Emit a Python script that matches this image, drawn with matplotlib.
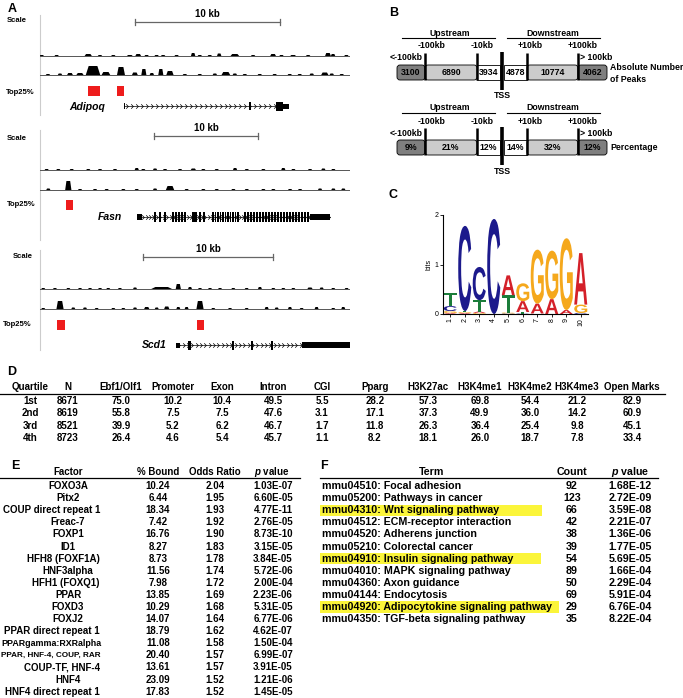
import numpy as np
import matplotlib
matplotlib.use('Agg')
import matplotlib.pyplot as plt
from matplotlib import font_manager
from matplotlib.textpath import TextPath
from matplotlib.patches import PathPatch, Rectangle, FancyBboxPatch
from matplotlib.transforms import Affine2D
from matplotlib.font_manager import FontProperties
from matplotlib.path import Path

# ---------------- DATA ----------------
# Panel A: genome browser tracks (kb position, signal height, peak width kb)
ADIPOQ_LEN = 21.4
ADIPOQ_T1 = [(0.12,1,0.3),(1.15,1,0.3),(3.33,2,0.5),(4.14,1,0.3),(5.06,1,0.3),(6.2,1,0.4),(6.78,2,0.4),
             (7.36,1,0.3),(8.05,1,0.3),(8.5,1,0.3),(9.43,1,0.3),(10.57,3,0.3),(11.03,1,0.3),(11.72,1,0.3),
             (12.37,2.5,0.3),(13.45,2,0.6),(14.71,1,0.3),(16.09,2,0.4),(16.67,1,0.3),(17.47,1,0.4),
             (18.51,1,0.3),(19.88,3,0.4),(20.23,2,0.3),(21.15,1,0.3)]
ADIPOQ_T2 = [(0.55,1,0.3),(1.38,1.5,0.3),(2.07,2,0.4),(2.76,2,0.5),(3.66,9,1.0),(4.55,3,0.6),(5.59,8,0.55),
             (6.55,2.5,0.4),(7.17,6,0.35),(7.72,2,0.3),(8.34,6,0.35),(8.97,4,0.5),(10.0,1,0.3),(11.03,1,0.3),
             (12.07,1.5,0.3),(12.83,3,0.6),(13.45,1.5,0.3),(14.14,1,0.3),(15.17,1,0.3),(16.2,1,0.3),
             (17.24,1,0.3),(17.93,1,0.3),(18.76,1.5,0.3),(19.66,2.5,0.5),(20.14,1.5,0.3),(20.83,1,0.3)]
ADIPOQ_TOP = [(3.31,4.14),(5.31,5.79)]
ADIPOQ_SCALE = 6.55
ADIPOQ_GENE = (5.79, 16.28)
ADIPOQ_EXONS = [(14.43,14.58,8),(16.28,16.76,9),(16.76,17.17,5)]

FASN_LEN = 29.8
FASN_T1 = [(0.64,1,0.4),(1.76,1,0.4),(3.05,1,0.4),(4.64,1,0.4),(5.77,1,0.4),(7.21,1,0.4),(9.3,2,0.4),
           (9.93,1,0.4),(11.06,1.5,0.4),(12.02,1,0.4),(13.46,1,0.4),(14.74,1.5,0.5),(15.7,1,0.4),(16.99,1,0.4),
           (18.75,2,0.4),(19.88,1,0.4),(21.47,1,0.4),(23.39,2,0.4),(24.36,1,0.4),(25.96,1,0.4),
           (27.24,1.5,0.4),(28.2,1,0.4)]
FASN_T2 = [(0.8,1.5,0.4),(2.72,9,0.6),(3.85,1,0.4),(5.29,1,0.4),(6.41,1,0.4),(8.01,1,0.4),(9.3,1,0.4),
           (11.06,1.5,0.4),(12.5,4,0.8),(14.1,1,0.4),(15.7,1,0.4),(16.99,1,0.4),(18.59,1,0.4),(19.88,1,0.4),
           (21.47,1,0.4),(22.43,1,0.4),(24.04,1,0.4),(25.0,1,0.4),(26.92,1.5,0.4),(28.2,1.5,0.4),(29.16,1.5,0.4)]
FASN_TOP = [(2.5,3.17)]
FASN_SCALE = 10.96
FASN_GENE = (9.33, 27.88)
FASN_UTR = [(9.33,9.81),(25.96,27.88)]
FASN_EXONS = [11.06,11.54,12.02,12.79,13.08,13.37,13.65,13.94,14.7,14.86,15.02,15.38,15.77,16.63,16.88,
              17.12,17.36,17.6,17.84,18.08,18.32,18.56,18.8,19.04,19.71,20.0,20.29,20.58,20.87,21.15,21.44,
              21.73,22.02,22.31,22.6,22.88,23.17,23.46,23.75,24.04,24.33,24.62,24.9,25.19,25.48,25.77]

SCD1_LEN = 23.85
SCD1_T1 = [(0.25,1,0.3),(1.15,1,0.3),(2.18,1,0.3),(3.08,1,0.3),(3.85,1,0.3),(4.62,1,0.3),(5.25,1,0.3),
           (6.15,1,0.3),(7.31,1.5,0.3),(9.36,2,1.6),(10.64,5,0.4),(11.54,2,0.3),(12.31,1,0.3),(13.08,1,0.3),
           (13.85,1,0.3),(14.87,1,0.3),(15.9,1,0.3),(16.92,2,0.3),(17.95,1,0.3),(18.72,1,0.3),(19.49,1,0.3),
           (20.77,1.5,0.4),(21.67,1.5,0.3),(22.56,1,0.3),(23.59,1,0.3)]
SCD1_T2 = [(0.25,1,0.3),(1.54,8,0.55),(2.56,1.5,0.3),(3.46,1.5,0.3),(4.36,1,0.3),(5.64,1,0.3),(6.41,1,0.3),
           (7.31,1.5,0.3),(8.21,2,0.4),(8.98,1.5,0.3),(9.75,2.5,0.4),(10.64,2,0.3),(11.28,2,0.3),(12.31,8,0.55),
           (13.33,1,0.3),(14.62,1,0.3),(15.9,1,0.3),(17.44,2,0.3),(18.21,1.5,0.3),(19.23,2,0.3),(20.13,1,0.3),
           (21.28,2,0.3),(22.56,1,0.3),(23.33,2,0.3)]
SCD1_TOP = [(1.31,1.92),(12.08,12.62)]
SCD1_SCALE = 7.92
SCD1_GENE = (10.46, 20.15)
SCD1_UTR = [(10.46,10.77,5),(20.15,23.85,6)]
SCD1_EXONS = [(11.35,11.58),(14.8,14.92),(16.25,16.37),(17.8,17.95)]

# Panel B
B_BOUNDS = ['<-100kb', '-100kb', '-10kb', '+10kb', '+100kb', '> 100kb']
B_ABS = ['3100', '6890', '3934', '4878', '10774', '4062']
B_PCT = ['9%', '21%', '12%', '14%', '32%', '12%']

# Panel C: motif logo (letter, bits) bottom -> top
LOGO = [
    [('A',0.02),('G',0.04),('C',0.10),('T',0.27)],
    [('A',0.02),('G',0.02),('T',0.02),('C',1.72)],
    [('G',0.02),('A',0.03),('T',0.23),('C',0.67)],
    [('C',1.92)],
    [('C',0.01),('G',0.02),('T',0.35),('A',0.40)],
    [('C',0.01),('T',0.03),('A',0.22),('G',0.36)],
    [('T',0.01),('A',0.20),('G',1.09)],
    [('A',0.30),('G',0.98)],
    [('A',0.08),('G',1.45)],
    [('C',0.02),('G',0.17),('A',1.04)],
]
LOGO_COLORS = {'A': '#d42029', 'C': '#1c1a8c', 'G': '#f5a81c', 'T': '#1b7d3a'}

# Panel D
D_HEAD = ['Quartile','N','Ebf1/Olf1','Promoter','Exon','Intron','CGI','Pparg','H3K27ac','H3K4me1',
          'H3K4me2','H3K4me3','Open Marks']
D_QUART = ['1st','2nd','3rd','4th']
D_N = [8671, 8619, 8521, 8723]
D_EBF = [75.0, 55.8, 39.9, 26.4]
D_PROM = [10.2, 7.5, 5.2, 4.6]
D_EXON = [10.4, 7.5, 6.2, 5.4]
D_INTRON = [49.5, 47.6, 46.7, 45.7]
D_CGI = [5.5, 3.1, 1.7, 1.1]
D_PPARG = [28.2, 17.1, 11.8, 8.2]
D_K27AC = [57.3, 37.3, 26.3, 18.1]
D_K4ME1 = [69.8, 49.9, 36.4, 26.0]
D_K4ME2 = [54.4, 36.0, 25.4, 18.7]
D_K4ME3 = [21.2, 14.2, 9.8, 7.8]
D_OPEN = [82.9, 60.9, 45.1, 33.4]

# Panel E
E_FACTOR = ['FOXO3A','Pitx2','COUP direct repeat 1','Freac-7','FOXP1','ID1','HFH8 (FOXF1A)','HNF3alpha',
            'HFH1 (FOXQ1)','PPAR','FOXD3','FOXJ2','PPAR direct repeat 1','PPARgamma:RXRalpha',
            'PPAR, HNF-4, COUP, RAR','COUP-TF, HNF-4','HNF4','HNF4 direct repeat 1']
E_BOUND = [10.24,6.44,18.34,7.42,16.76,8.27,8.73,11.56,7.98,13.85,10.29,14.07,18.79,11.08,20.40,13.61,23.09,17.83]
E_ODDS = [2.04,1.95,1.93,1.92,1.90,1.83,1.78,1.74,1.72,1.69,1.68,1.64,1.62,1.58,1.57,1.57,1.52,1.52]
E_P = ['1.03E-07','6.60E-05','4.77E-11','2.76E-05','8.73E-10','3.15E-05','3.84E-05','5.72E-06','2.00E-04',
       '2.23E-06','5.31E-05','6.77E-06','4.62E-07','1.50E-04','6.99E-07','3.91E-05','1.21E-06','1.45E-05']

# Panel F
F_TERM = ['mmu04510: Focal adhesion','mmu05200: Pathways in cancer','mmu04310: Wnt signaling pathway',
          'mmu04512: ECM-receptor interaction','mmu04520: Adherens junction','mmu05210: Colorectal cancer',
          'mmu04910: Insulin signaling pathway','mmu04010: MAPK signaling pathway','mmu04360: Axon guidance',
          'mmu04144: Endocytosis','mmu04920: Adipocytokine signaling pathway','mmu04350: TGF-beta signaling pathway']
F_COUNT = [92,123,66,42,38,39,54,89,50,69,29,35]
F_P = ['1.68E-12','2.72E-09','3.59E-08','2.21E-07','1.36E-06','1.77E-05','5.69E-05','1.66E-04','2.29E-04',
       '5.91E-04','6.76E-04','8.22E-04']
F_HIGHLIGHT = [2, 6, 10]

# ---------------- FONTS ----------------
names = {f.name for f in font_manager.fontManager.ttflist}
REG = 'Liberation Sans' if 'Liberation Sans' in names else 'DejaVu Sans'
plt.rcParams['mathtext.fontset'] = 'custom'
plt.rcParams['mathtext.it'] = REG + ':italic:bold'
plt.rcParams['mathtext.rm'] = REG + ':bold'

W, H = 683, 698
fig = plt.figure(figsize=(6.83, 6.98), dpi=100)
ax = fig.add_axes([0, 0, 1, 1])
ax.set_xlim(0, W); ax.set_ylim(H, 0); ax.axis('off')


def px_axes(x0, y0, x1, y1):
    return fig.add_axes([x0 / W, 1 - y1 / H, (x1 - x0) / W, (y1 - y0) / H])


def txt(x, y, s, size=7, ha='center', weight='bold', style='normal', color='black', zorder=3):
    return ax.text(x, y, s, fontsize=size, family=REG, ha=ha, va='center', fontweight=weight,
                   fontstyle=style, color=color, zorder=zorder)


# ---------------- PANEL A ----------------
chev = Path([(-0.6, 1), (0.4, 0), (-0.6, -1)], [Path.MOVETO, Path.LINETO, Path.LINETO])


def block(top, bot, L, scale_kb, scale_y, t1, t1y, t2, t2y, tops, topy):
    b = px_axes(40, top, 350, bot)
    b.set_xlim(0, L); b.set_ylim(bot, top); b.axis('off')
    b.patch.set_alpha(0)
    b.plot([scale_kb, scale_kb + 10], [scale_y, scale_y], color='#666666', lw=0.9)
    for xx in (scale_kb, scale_kb + 10):
        b.plot([xx, xx], [scale_y - 3, scale_y + 3], color='#666666', lw=0.9)
    b.text(scale_kb + 5, scale_y - 8, '10 kb', ha='center', va='center', fontsize=7, family=REG,
           fontweight='bold')
    for data, base in ((t1, t1y), (t2, t2y)):
        b.plot([0, L], [base, base], color='#555555', lw=0.7)
        for pos, h, w in data:
            b.fill([pos - w / 2, pos - w / 2 + 0.2 * w, pos + w / 2 - 0.2 * w, pos + w / 2],
                   [base, base - h, base - h, base], color='black', lw=0)
    for a0, a1 in tops:
        b.add_patch(Rectangle((a0, topy - 5), a1 - a0, 10, color='#ee1c1c', lw=0))
    return b


def intron(b, x0, x1, y):
    b.plot([x0, x1], [y, y], color='black', lw=0.5)
    xs = np.arange(x0 + 0.25, x1, (x1 - x0) / max(1, int((x1 - x0) / 0.33)))
    b.plot(xs, [y] * len(xs), ls='none', marker=chev, ms=3.2, mfc='none', mec='black', mew=0.5)


def exon(b, x0, x1, y, h):
    b.add_patch(Rectangle((x0, y - h / 2), x1 - x0, h, color='black', lw=0))


b1 = block(8, 115, ADIPOQ_LEN, ADIPOQ_SCALE, 22, ADIPOQ_T1, 56, ADIPOQ_T2, 75, ADIPOQ_TOP, 91)
intron(b1, ADIPOQ_GENE[0], ADIPOQ_GENE[1], 106)
b1.plot([ADIPOQ_GENE[0], ADIPOQ_GENE[0]], [103.5, 108.5], color='black', lw=0.7)
for x0, x1, h in ADIPOQ_EXONS:
    exon(b1, x0, x1, 106, h)

b2 = block(122, 230, FASN_LEN, FASN_SCALE, 136, FASN_T1, 170, FASN_T2, 190, FASN_TOP, 205)
intron(b2, FASN_GENE[0], FASN_GENE[1], 217)
exon(b2, FASN_UTR[0][0], FASN_UTR[0][1], 217, 6)
exon(b2, FASN_UTR[1][0], FASN_UTR[1][1], 217, 6)
for c in FASN_EXONS:
    exon(b2, c - 0.07, c + 0.07, 217, 10)
exon(b2, 14.62, 15.1, 217, 10)

b3 = block(240, 352, SCD1_LEN, SCD1_SCALE, 257, SCD1_T1, 289, SCD1_T2, 309, SCD1_TOP, 325)
intron(b3, SCD1_GENE[0], SCD1_GENE[1], 345)
for x0, x1, h in SCD1_UTR:
    exon(b3, x0, x1, 345, h)
for x0, x1 in SCD1_EXONS:
    exon(b3, x0, x1, 345, 9)

for y0, y1 in ((15, 115), (130, 240), (250, 350)):
    ax.plot([40, 40], [y0, y1], color='#cccccc', lw=0.8)

txt(8, 9, 'A', size=9, ha='left')
for x, y in ((7, 20), (7, 139), (13, 256)):
    txt(x, y, 'Scale', size=5.5, ha='left')
for x, y in ((6, 92), (7, 205), (3, 325)):
    txt(x, y, 'Top25%', size=5.5, ha='left')
txt(105, 107, 'Adipoq', size=7.5, ha='right', style='italic')
txt(122, 217, 'Fasn', size=7.5, ha='right', style='italic')
txt(167, 345, 'Scd1', size=7.5, ha='right', style='italic')

# ---------------- PANEL B ----------------
txt(394, 13, 'B', size=9)
segs = [(397, 425, '#7f7f7f'), (425, 477, '#cccccc'), (477, 500, 'white'),
        (504, 527, 'white'), (527, 578, '#cccccc'), (578, 607, '#7f7f7f')]


def draw_B(dy, vals, right):
    BS = 6.3
    txt(450, 33 + dy, 'Upstream', size=BS)
    txt(553, 33 + dy, 'Downstream', size=BS)
    ax.plot([402, 495], [38 + dy, 38 + dy], color='black', lw=0.8)
    ax.plot([507, 600], [38 + dy, 38 + dy], color='black', lw=0.8)
    for lab, x, y, ha in zip(B_BOUNDS, [406, 432, 482, 530, 583, 580],
                             [58, 46, 46, 46, 46, 58], ['center'] * 5 + ['left']):
        txt(x, y + dy, lab, size=BS, ha=ha)
    for (x0, x1, c), v in zip(segs, vals):
        if c == 'white':
            ax.add_patch(Rectangle((x0, 65 + dy), x1 - x0, 15, fc=c, ec='black', lw=0.6))
        else:
            ax.add_patch(FancyBboxPatch((x0 + 1.5, 66.5 + dy), x1 - x0 - 3, 12,
                                        boxstyle='round,pad=1.5,rounding_size=3', fc=c, ec='black', lw=0.6))
        txt((x0 + x1) / 2, 72.5 + dy, v, size=BS)
    for x in (425, 477, 527, 578):
        ax.plot([x, x], [53 + dy, 80 + dy], color='black', lw=1.8, solid_capstyle='butt')
    ax.plot([502, 502], [52 + dy, 90 + dy], color='black', lw=2.6, solid_capstyle='butt')
    txt(502, 96 + dy, 'TSS', size=BS)
    for i, line in enumerate(right):
        txt(610, 68 + dy + i * 11 if len(right) > 1 else 72.5 + dy, line, size=BS, ha='left')


draw_B(0, B_ABS, ['Absolute Number', 'of Peaks'])
draw_B(75, B_PCT, ['Percentage'])

# ---------------- PANEL C ----------------
txt(393, 195, 'C', size=9)
lax = px_axes(443, 215, 588, 314)
lax.set_xlim(0.5, 10.5); lax.set_ylim(0, 2)
lax.patch.set_alpha(0)
fp = FontProperties(family=REG, weight='bold')
for i, col in enumerate(LOGO):
    xpos = i + 1
    base = 0.0
    for ch, hgt in col:
        tp = TextPath((0, 0), ch, size=1, prop=fp)
        ext = tp.get_extents()
        w = 0.9
        tr = Affine2D().translate(-ext.x0, -ext.y0).scale(w / ext.width, hgt / ext.height) \
            .translate(xpos - w / 2, base)
        lax.add_patch(PathPatch(tr.transform_path(tp), fc=LOGO_COLORS[ch], ec='none'))
        base += hgt
lax.spines['top'].set_visible(False)
lax.spines['right'].set_visible(False)
for s in ('left', 'bottom'):
    lax.spines[s].set_linewidth(0.8)
lax.set_yticks([0, 1, 2])
lax.set_xticks(range(1, 11))
lax.set_xticklabels([str(i) for i in range(1, 11)], rotation=90)
lax.tick_params(labelsize=5, length=2, width=0.6, pad=1)
for lab in lax.get_xticklabels() + lax.get_yticklabels():
    lab.set_fontfamily(REG)
lax.set_ylabel('bits', fontsize=5, family=REG, labelpad=2)

# ---------------- PANEL D ----------------
DS = 7
txt(12, 372, 'D', size=9)
dx = [30, 68, 121, 173, 222, 273, 322, 375, 428, 480, 530, 577, 632]
for x, h in zip(dx, D_HEAD):
    txt(x, 387, h, size=DS)
ax.plot([0, 665], [394, 394], color='black', lw=0.9)
cols = [D_QUART, D_N, D_EBF, D_PROM, D_EXON, D_INTRON, D_CGI, D_PPARG, D_K27AC, D_K4ME1, D_K4ME2,
        D_K4ME3, D_OPEN]
for j, colvals in enumerate(cols):
    for i, v in enumerate(colvals):
        s = v if isinstance(v, str) else (f'{v}' if isinstance(v, int) else f'{v:.1f}')
        txt(dx[j], 401 + i * 12.4, s, size=DS)

# ---------------- PANEL E ----------------
ES = 7
txt(15, 466, 'E', size=9)
txt(68, 472, 'Factor', size=ES); txt(158, 472, '% Bound', size=ES)
txt(215, 472, 'Odds Ratio', size=ES); txt(272, 472, r'$p$ value', size=ES)
ax.plot([0, 300], [478, 478], color='black', lw=0.9)
renderer = fig.canvas.get_renderer()
for i in range(len(E_FACTOR)):
    y = 486 + i * 12.1
    t = txt(68, y, E_FACTOR[i], size=ES)
    bb = t.get_window_extent(renderer)
    if bb.width > 100:
        t.set_fontsize(ES * 100 / bb.width)
        t.set_x(51)
    elif bb.x1 > 100:
        t.set_x(68 - (bb.x1 - 100))
    txt(158, y, f'{E_BOUND[i]:.2f}', size=ES)
    txt(215, y, f'{E_ODDS[i]:.2f}', size=ES)
    txt(273, y, E_P[i], size=ES)

# ---------------- PANEL F ----------------
FS = 7.7
txt(324, 466, 'F', size=9)
txt(432, 472, 'Term', size=FS); txt(572, 472, 'Count', size=FS); txt(630, 472, r'$p$ value', size=FS)
ax.plot([320, 658], [478, 478], color='black', lw=0.9)
hl_end = {2: 542, 6: 541, 10: 559}
for i in range(len(F_TERM)):
    y = 486 + i * 12.1
    if i in F_HIGHLIGHT:
        ax.add_patch(Rectangle((320, y - 5.6), hl_end[i] - 320, 11.2, fc='#fbf53a', ec='none', zorder=1))
    txt(322, y, F_TERM[i], size=FS, ha='left')
    txt(572, y, str(F_COUNT[i]), size=FS)
    txt(630, y, F_P[i], size=FS)

fig.savefig('out.png', dpi=100)
